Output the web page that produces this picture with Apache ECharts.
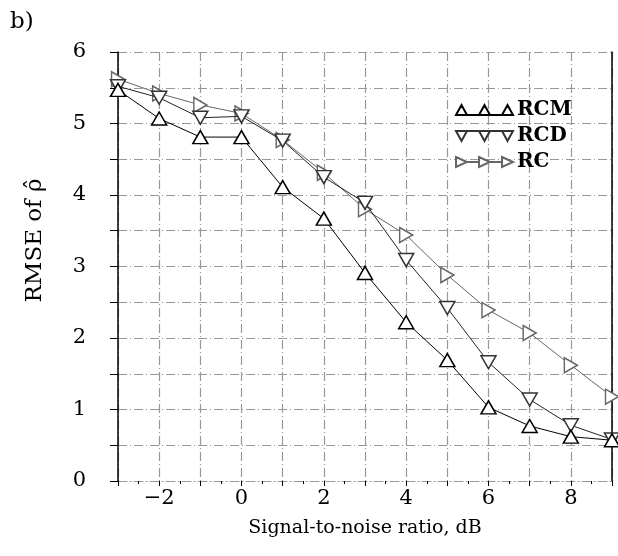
<!DOCTYPE html>
<html><head><meta charset="utf-8">
<script src="https://cdn.jsdelivr.net/npm/echarts@6/dist/echarts.min.js"></script>
<style>html,body{margin:0;padding:0;background:#fff}#c{width:618px;height:556px}</style>
</head><body><div id="c"></div>
<script>
const snr = [-3, -2, -1, 0, 1, 2, 3, 4, 5, 6, 7, 8, 9];
const rcm = [5.47, 5.07, 4.81, 4.81, 4.11, 3.67, 2.91, 2.22, 1.69, 1.03, 0.77, 0.62, 0.57];
const rcd = [5.52, 5.36, 5.08, 5.10, 4.76, 4.25, 3.89, 3.09, 2.42, 1.66, 1.14, 0.78, 0.58];
const rc  = [5.62, 5.42, 5.26, 5.14, 4.77, 4.31, 3.80, 3.44, 2.88, 2.39, 2.07, 1.62, 1.18];
const seriesNames = ['RCM', 'RCD', 'RC'];
const xTickLabels = [-2, 0, 2, 4, 6, 8];
const yTickLabels = [0, 1, 2, 3, 4, 5, 6];

const FONT = 'DejaVu Serif';
const gridDash = [9, 3, 1, 3];
const pair = (arr) => snr.map((x, i) => [x, arr[i]]);

const downTri = 'path://M0,0 L14,0 L7,12 Z';
const rightTri = 'path://M0,0 L12,7 L0,14 Z';
const legUp = 'path://M0,10 L5.5,0 L11,10 Z M11,10 L23,10 M23,10 L28.5,0 L34,10 Z M34,10 L46,10 M46,10 L51.5,0 L57,10 Z';
const legDown = 'path://M0,0 L5.5,10 L11,0 Z M11,0 L23,0 M23,0 L28.5,10 L34,0 Z M34,0 L46,0 M46,0 L51.5,10 L57,0 Z';
const legRight = 'path://M0,0 L11,5 L0,10 Z M11,5 L23,5 M23,0 L34,5 L23,10 Z M34,5 L46,5 M46,0 L57,5 L46,10 Z';

const chart = echarts.init(document.getElementById('c'), null, {renderer: 'canvas'});
chart.setOption({
  animation: false,
  backgroundColor: '#fff',
  title: {text: 'b)', left: 5, top: 6, textStyle: {fontFamily: FONT, fontSize: 23, fontWeight: 'normal', color: '#000'}},
  grid: {left: 118, right: 6, top: 52, bottom: 75},
  legend: {
    orient: 'vertical', left: 450, top: 95, itemGap: 6,
    itemWidth: 57, itemHeight: 10,
    textStyle: {fontFamily: FONT, fontSize: 20, fontWeight: 'bold', color: '#000', padding: [0, 0, 0, -1]},
    data: [
      {name: 'RCM', icon: legUp},
      {name: 'RCD', icon: legDown},
      {name: 'RC', icon: legRight}
    ]
  },
  xAxis: {
    type: 'value', min: -3, max: 9, interval: 1,
    name: 'Signal-to-noise ratio, dB', nameLocation: 'middle', nameGap: 38,
    nameTextStyle: {fontFamily: FONT, fontSize: 19, color: '#000'},
    axisLine: {show: true, onZero: false, lineStyle: {color: '#999', width: 1, type: gridDash}},
    axisTick: {show: true, length: 5, lineStyle: {color: '#000', width: 1}},
    minorTick: {show: true, splitNumber: 2, length: 3, lineStyle: {color: '#000'}},
    axisLabel: {fontFamily: FONT, fontSize: 21, color: '#000', margin: 7,
      formatter: v => xTickLabels.includes(v) ? String(v).replace('-', '\u2212') : ''},
    splitLine: {show: true, lineStyle: {color: '#999', width: 1.2, type: gridDash}}
  },
  yAxis: [{
    type: 'value', min: 0, max: 6, interval: 0.5,
    name: 'RMSE of \u03C1\u0302', nameLocation: 'middle', nameGap: 71,
    nameTextStyle: {fontFamily: FONT, fontSize: 23, color: '#000', padding: [0, 0, 0, 52]},
    axisLine: {show: true, onZero: false, lineStyle: {color: '#000', width: 1.5}},
    axisTick: {show: true, length: 8, lineStyle: {color: '#000', width: 1}},
    axisLabel: {fontFamily: FONT, fontSize: 21, color: '#000', margin: 32,
      formatter: v => yTickLabels.includes(v) ? String(v) : ''},
    splitLine: {show: true, lineStyle: {color: '#999', width: 1.2, type: gridDash}}
  }, {
    type: 'value', min: 0, max: 6, interval: 0.5, position: 'right',
    axisLine: {show: true, onZero: false, lineStyle: {color: '#000', width: 1.5}},
    axisTick: {show: false}, axisLabel: {show: false}, splitLine: {show: false}
  }],
  series: [
    {name: 'RCM', type: 'line', data: pair(rcm), symbol: 'triangle', symbolSize: [15, 13],
      lineStyle: {color: '#000', width: 1}, itemStyle: {color: '#fff', borderColor: '#000', borderWidth: 1.5}, z: 5},
    {name: 'RCD', type: 'line', data: pair(rcd), symbol: downTri, symbolSize: [15, 13],
      lineStyle: {color: '#222', width: 1}, itemStyle: {color: '#fff', borderColor: '#333', borderWidth: 1.5}, z: 4},
    {name: 'RC', type: 'line', data: pair(rc), symbol: rightTri, symbolSize: [13, 15],
      lineStyle: {color: '#666', width: 1}, itemStyle: {color: '#fff', borderColor: '#666', borderWidth: 1.5}, z: 3}
  ]
});
</script></body></html>
